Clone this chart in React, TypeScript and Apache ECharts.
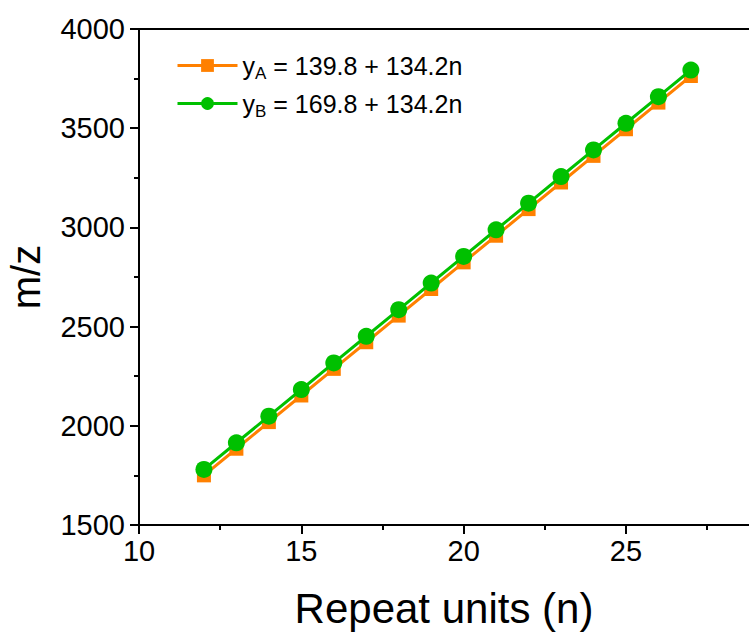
import React, { useEffect, useRef } from "react";
import * as echarts from "echarts";

const repeatUnits = [12, 13, 14, 15, 16, 17, 18, 19, 20, 21, 22, 23, 24, 25, 26, 27];
const seriesA = [1750.2, 1884.4, 2018.6, 2152.8, 2287.0, 2421.2, 2555.4, 2689.6, 2823.8, 2958.0, 3092.2, 3226.4, 3360.6, 3494.8, 3629.0, 3763.2];
const seriesB = [1780.2, 1914.4, 2048.6, 2182.8, 2317.0, 2451.2, 2585.4, 2719.6, 2853.8, 2988.0, 3122.2, 3256.4, 3390.6, 3524.8, 3659.0, 3793.2];
const xMajorTicks = [10, 15, 20, 25];
const xMinorTicks = [12.5, 17.5, 22.5, 27.5];
const legendLabels: Record<string, [string, string]> = {
  A: ["A", " = 139.8 + 134.2n"],
  B: ["B", " = 169.8 + 134.2n"],
};

const FONT = "'Liberation Sans', Arial, sans-serif";
const X_MIN = 10;
const X_MAX = 28.79;

export default function App() {
  const ref = useRef<HTMLDivElement>(null);
  useEffect(() => {
    document.body.style.margin = "0";
    document.body.style.overflow = "hidden";
    const chart = echarts.init(ref.current!, null, { renderer: "svg" });
    const axisLine = { show: true, lineStyle: { color: "#000", width: 2 } };
    chart.setOption({
      animation: false,
      textStyle: { fontFamily: FONT },
      grid: { left: 139, top: 29, right: 0, height: 496, show: false, outerBoundsMode: "none", containLabel: false },
      legend: {
        left: 176,
        top: 53,
        padding: 0,
        orient: "vertical",
        itemWidth: 60,
        itemHeight: 16,
        itemGap: 9,
        data: ["A", "B"],
        lineStyle: { width: 3 },
        formatter: (name: string) =>
          `{y|y}{sub|${legendLabels[name][0]}}{t|${legendLabels[name][1]}}`,
        textStyle: {
          fontFamily: FONT,
          rich: {
            y: { fontSize: 25, color: "#000", fontFamily: FONT },
            sub: { fontSize: 17, color: "#000", fontFamily: FONT, padding: [16, 0, 0, 0] },
            t: { fontSize: 25, color: "#000", fontFamily: FONT },
          },
        },
      },
      xAxis: [
        {
          type: "value",
          min: X_MIN,
          max: X_MAX,
          position: "bottom",
          axisLine,
          axisTick: {
            show: true,
            length: 9,
            inside: false,
            customValues: xMajorTicks,
            lineStyle: { color: "#000", width: 2 },
          },
          splitLine: { show: false },
          axisLabel: {
            fontSize: 29,
            color: "#000",
            margin: 11,
            fontFamily: FONT,
            customValues: xMajorTicks,
            formatter: (v: number) => String(v),
          },
          name: "Repeat units (n)",
          nameLocation: "middle",
          nameGap: 62,
          nameTextStyle: { fontSize: 42, lineHeight: 42, color: "#000", fontFamily: FONT },
        },
        {
          type: "value",
          min: X_MIN,
          max: X_MAX,
          position: "top",
          axisLine,
          axisTick: { show: false },
          axisLabel: { show: false },
          splitLine: { show: false },
        },
        {
          type: "value",
          min: X_MIN,
          max: X_MAX,
          position: "bottom",
          axisLine: { show: false },
          axisTick: {
            show: true,
            length: 5,
            inside: false,
            customValues: xMinorTicks,
            lineStyle: { color: "#000", width: 2 },
          },
          axisLabel: { show: false },
          splitLine: { show: false },
        },
      ],
      yAxis: {
        type: "value",
        min: 1500,
        max: 4000,
        interval: 500,
        axisLine,
        axisTick: { show: true, length: 9, inside: false, lineStyle: { color: "#000", width: 2 } },
        minorTick: { show: true, splitNumber: 2, length: 5, lineStyle: { color: "#000", width: 2 } },
        splitLine: { show: false },
        axisLabel: {
          fontSize: 29,
          color: "#000",
          margin: 14,
          fontFamily: FONT,
          formatter: (v: number) => String(v),
        },
        name: "m/z",
        nameLocation: "middle",
        nameRotate: 90,
        nameGap: 93,
        nameTextStyle: { fontSize: 40, color: "#000", fontFamily: FONT },
      },
      series: [
        {
          name: "A",
          type: "line",
          xAxisIndex: 0,
          data: repeatUnits.map((n, i) => [n, seriesA[i]]),
          symbol: "rect",
          symbolSize: 14,
          itemStyle: { color: "#FF8000" },
          lineStyle: { color: "#FF8000", width: 3 },
          z: 2,
        },
        {
          name: "B",
          type: "line",
          xAxisIndex: 0,
          data: repeatUnits.map((n, i) => [n, seriesB[i]]),
          symbol: "circle",
          symbolSize: 17,
          itemStyle: { color: "#00C000" },
          lineStyle: { color: "#00C000", width: 3 },
          z: 3,
        },
      ],
    });
    return () => chart.dispose();
  }, []);
  return <div ref={ref} style={{ width: 749, height: 633 }} />;
}
